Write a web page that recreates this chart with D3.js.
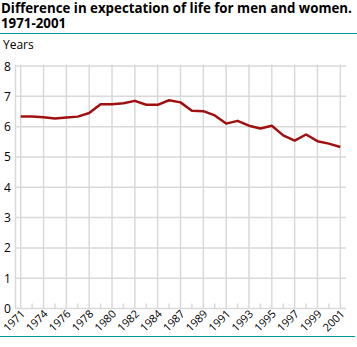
<!DOCTYPE html>
<html>
<head>
<meta charset="utf-8">
<script src="https://cdn.jsdelivr.net/npm/d3@7"></script>
<style>
  body { margin: 0; background: #fff; }
  text { font-family: "Open Sans", sans-serif; fill: #000; }
</style>
</head>
<body>
<div id="chart"></div>
<script>
// periods along the x axis (two of them are merged years)
const years = ["1971", "1972-1973", "1974", "1975", "1976", "1977", "1978", "1979", "1980",
  "1981", "1982", "1983", "1984", "1985-1986", "1987", "1988", "1989", "1990", "1991",
  "1992", "1993", "1994", "1995", "1996", "1997", "1998", "1999", "2000", "2001"];
// women's minus men's life expectancy, years
const difference = [6.33, 6.33, 6.31, 6.27, 6.30, 6.33, 6.45, 6.74, 6.74,
  6.77, 6.85, 6.72, 6.72, 6.87, 6.80, 6.52, 6.51, 6.37, 6.10,
  6.19, 6.03, 5.94, 6.03, 5.71, 5.54, 5.74, 5.52, 5.44, 5.33];
const yTicks = [0, 1, 2, 3, 4, 5, 6, 7, 8];

const width = 357, height = 347;
const margin = {top: 66, right: 11, bottom: 38, left: 15};

const svg = d3.select("#chart").append("svg")
  .attr("width", width)
  .attr("height", height);

// title block
const title = svg.append("g").attr("class", "titleG");
title.append("text").attr("x", 1).attr("y", 13)
  .style("font-weight", "bold").style("font-size", "13.3px")
  .text("Difference in expectation of life for men and women.");
title.append("text").attr("x", 1).attr("y", 28)
  .style("font-weight", "bold").style("font-size", "13.3px")
  .text("1971-2001");
svg.append("line").attr("x1", 0).attr("x2", width).attr("y1", 33.5).attr("y2", 33.5)
  .attr("stroke", "#00959a").attr("stroke-width", 1.2);
svg.append("line").attr("x1", 0).attr("x2", width - 2).attr("y1", 336.5).attr("y2", 336.5)
  .attr("stroke", "#00959a").attr("stroke-width", 1.2);
svg.append("text").attr("x", 3).attr("y", 49).style("font-size", "12px").text("Years");

const xScale = d3.scalePoint().domain(years)
  .range([margin.left, width - margin.right]).padding(0.5);
const yScale = d3.scaleLinear().domain([0, 8])
  .range([height - margin.bottom - 0.5, margin.top]);

const plot = svg.append("g").attr("class", "plotG");

// horizontal grid
plot.selectAll(".hGrid").data(yTicks).join("line")
  .attr("class", "hGrid")
  .attr("x1", margin.left).attr("x2", width - margin.right)
  .attr("y1", d => yScale(d)).attr("y2", d => yScale(d))
  .attr("stroke", "#d9d9d9").attr("stroke-width", 1.5);

// vertical grid at labelled periods, short ticks for the others
const labelled = years.filter((d, i) => i % 2 === 0);
const unlabelled = years.filter((d, i) => i % 2 === 1);
plot.selectAll(".vGrid").data(labelled).join("line")
  .attr("class", "vGrid")
  .attr("x1", d => xScale(d)).attr("x2", d => xScale(d))
  .attr("y1", yScale(8) - 1.5).attr("y2", yScale(0))
  .attr("stroke", "#d9d9d9").attr("stroke-width", 1.5);
plot.selectAll(".minorTick").data(unlabelled).join("line")
  .attr("class", "minorTick")
  .attr("x1", d => xScale(d)).attr("x2", d => xScale(d))
  .attr("y1", yScale(0) - 5).attr("y2", yScale(0))
  .attr("stroke", "#d9d9d9").attr("stroke-width", 1.5);
plot.append("line")
  .attr("x1", margin.left + 0.5).attr("x2", margin.left + 0.5)
  .attr("y1", yScale(8) - 1.5).attr("y2", yScale(0))
  .attr("stroke", "#d9d9d9").attr("stroke-width", 1.5);

// y labels
svg.selectAll(".yLabel").data(yTicks).join("text")
  .attr("class", "yLabel")
  .attr("x", 4).attr("y", d => yScale(d) + 4.5)
  .style("font-size", "12px")
  .text(d => d);

// x labels, rotated
svg.selectAll(".xLabel").data(labelled).join("text")
  .attr("class", "xLabel")
  .attr("text-anchor", "end")
  .attr("transform", d => "translate(" + (xScale(d) + 5) + "," + (yScale(0) + 6) + ") rotate(-45)")
  .style("font-size", "11px")
  .text(d => d);

// the series
const line = d3.line()
  .x((d, i) => xScale(years[i]))
  .y(d => yScale(d));
plot.append("path")
  .datum(difference)
  .attr("d", line)
  .attr("fill", "none")
  .attr("stroke", "#a01010")
  .attr("stroke-width", 2.5)
  .attr("stroke-linejoin", "round");
</script>
</body>
</html>
